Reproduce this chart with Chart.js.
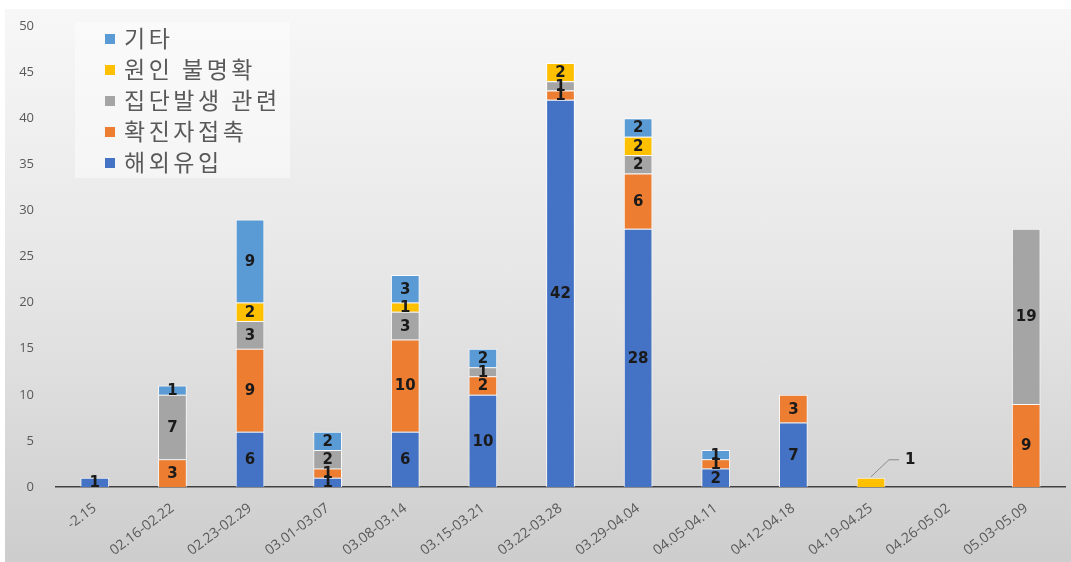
<!DOCTYPE html>
<html>
<head>
<meta charset="utf-8">
<script src="https://cdn.jsdelivr.net/npm/chart.js@4"></script>
<style>
  html, body { margin: 0; padding: 0; background: #ffffff; width: 1071px; height: 562px; overflow: hidden; }
  #wrap { position: absolute; left: 5px; top: 9px; width: 1066px; height: 553px;
          background: linear-gradient(to bottom, #f7f7f7 0%, #e6e6e6 50%, #cdcdcd 100%); }
  #legend { position: absolute; left: 70px; top: 13px; width: 215px; height: 156px;
            background: rgba(255,255,255,0.45); font-family: "Noto Sans CJK KR", sans-serif; }
  .item { position: absolute; left: 30px; height: 26px; line-height: 26px; font-size: 23px; letter-spacing: 3.5px; color: #595959; white-space: nowrap; }
  .sw { display: inline-block; width: 10px; height: 10px; margin-right: 9px; vertical-align: 3px; }
</style>
</head>
<body>
<div id="wrap">
  <canvas id="c" width="1066" height="553"></canvas>
  <div id="legend"></div>
</div>
<script>
const categories = ['-2.15','02.16-02.22','02.23-02.29','03.01-03.07','03.08-03.14','03.15-03.21','03.22-03.28','03.29-04.04','04.05-04.11','04.12-04.18','04.19-04.25','04.26-05.02','05.03-05.09'];
const seriesNames = ['해외유입','확진자접촉','집단발생 관련','원인 불명확','기타'];
const overseas   = [1, null, 6, 1, 6, 10, 42, 28, 2, 7, null, null, null];
const contact    = [null, 3, 9, 1, 10, 2, 1, 6, 1, 3, null, null, 9];
const cluster    = [null, 7, 3, 2, 3, 1, 1, 2, null, null, null, null, 19];
const unknown    = [null, null, 2, null, 1, null, 2, 2, null, null, 1, null, null];
const other      = [null, 1, 9, 2, 3, 2, null, 2, 1, null, null, null, null];
const yTicks     = [0, 5, 10, 15, 20, 25, 30, 35, 40, 45, 50];

const colors = ['#4472C4', '#ED7D31', '#A5A5A5', '#FFC000', '#5B9BD5'];
const values = [overseas, contact, cluster, unknown, other];

const datasets = values.map((v, i) => ({
  label: seriesNames[i],
  data: v,
  backgroundColor: colors[i],
  borderColor: 'rgba(255,255,255,0.85)',
  borderWidth: 1,
  barPercentage: 0.37,
  categoryPercentage: 1.0
}));

// legend (reverse order like original)
const lg = document.getElementById('legend');
seriesNames.slice().reverse().forEach((name, k) => {
  const idx = seriesNames.length - 1 - k;
  const d = document.createElement('div');
  d.className = 'item';
  d.style.top = (2 + k * 31) + 'px';
  d.innerHTML = '<span class="sw" style="background:' + colors[idx] + '"></span>' + name;
  lg.appendChild(d);
});

const labelPlugin = {
  id: 'segLabels',
  afterDatasetsDraw(chart, args, opts) {
    const ctx = chart.ctx;
    ctx.save();
    ctx.font = 'bold 15px "DejaVu Sans", sans-serif';
    ctx.textAlign = 'center';
    ctx.textBaseline = 'middle';
    chart.data.datasets.forEach((ds, di) => {
      const meta = chart.getDatasetMeta(di);
      meta.data.forEach((el, i) => {
        const v = ds.data[i];
        if (v === null || v === 0 || v === undefined) return;
        const co = (opts.callouts || []).find(c => c.dataset === di && c.index === i);
        if (co) {
          const top = el.y;
          ctx.strokeStyle = '#8c8c8c';
          ctx.lineWidth = 1;
          ctx.beginPath();
          ctx.moveTo(el.x, top - 1);
          ctx.lineTo(el.x + co.dx - 16, top + co.dy);
          ctx.lineTo(el.x + co.dx - 6, top + co.dy);
          ctx.stroke();
          ctx.fillStyle = '#1a1a1a';
          ctx.textAlign = 'left';
          ctx.fillText(String(v), el.x + co.dx, top + co.dy);
          ctx.textAlign = 'center';
          return;
        }
        ctx.fillStyle = '#1a1a1a';
        ctx.fillText(String(v), el.x, (el.y + el.base) / 2 + 1);
      });
    });
    ctx.restore();
  }
};

new Chart(document.getElementById('c'), {
  type: 'bar',
  data: { labels: categories, datasets },
  plugins: [labelPlugin],
  options: {
    responsive: false,
    animation: false,
    layout: { padding: { top: 17, right: 6, left: 0, bottom: 0 } },
    plugins: {
      legend: { display: false },
      tooltip: { enabled: false },
      segLabels: { callouts: [{ dataset: 3, index: 10, dx: 34, dy: -18 }] }
    },
    scales: {
      x: {
        stacked: true,
        grid: { display: false },
        border: { display: true, color: '#404040', width: 1.5 },
        ticks: { color: '#595959', font: { size: 14, family: '"Open Sans", sans-serif' }, minRotation: 37, maxRotation: 37, padding: 5 },
        afterFit(s) { s.height = 75; s.paddingTop = 0; }
      },
      y: {
        stacked: true,
        min: 0, max: 50,
        afterBuildTicks(s) { s.ticks = yTicks.map(v => ({ value: v })); },
        grid: { display: false },
        border: { display: false },
        ticks: { color: '#595959', font: { size: 13, family: '"Open Sans", sans-serif' }, padding: 14 },
        afterFit(s) { s.width = 51; s.paddingTop = 0; s.paddingBottom = 0; }
      }
    }
  }
});
</script>
</body>
</html>
